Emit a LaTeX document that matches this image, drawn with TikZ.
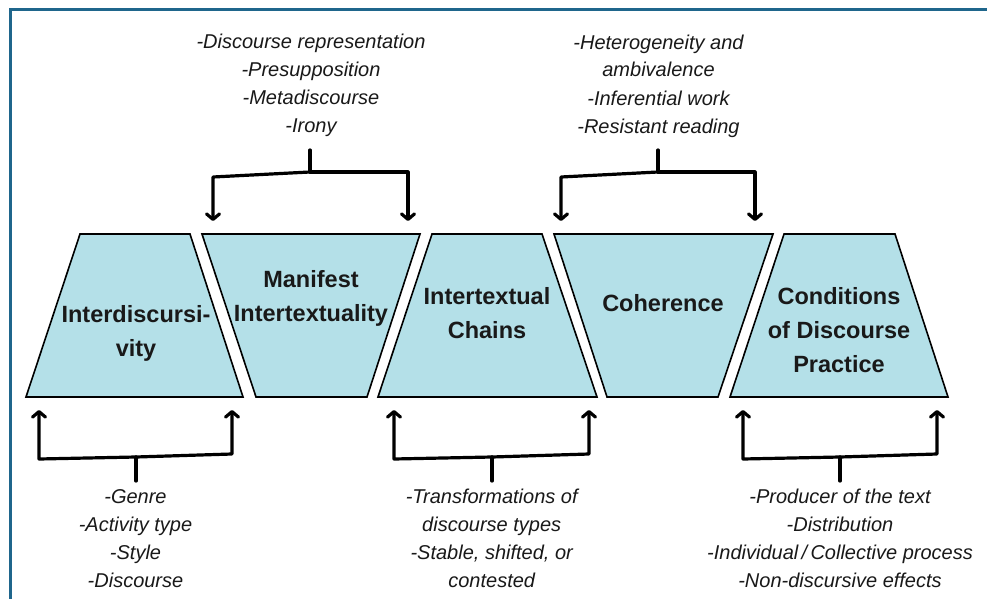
\documentclass[tikz,border=0pt]{standalone}
\usepackage{fontspec}
\setmainfont{Liberation Sans}
\usetikzlibrary{arrows.meta}
\definecolor{framec}{RGB}{31,102,140}
\definecolor{boxfill}{RGB}{180,224,232}
\definecolor{txt}{RGB}{25,25,25}
\begin{document}
\begin{tikzpicture}[x=1pt,y=-1pt,
  box/.style={draw=black,line width=1.6pt,fill=boxfill,line join=miter},
  title/.style={font=\fontsize{23.5}{34}\selectfont\bfseries,text=txt,align=center,inner sep=0pt,anchor=base},
  note/.style={font=\fontsize{20}{28}\selectfont\itshape,text=txt,align=center,inner sep=0pt,anchor=base},
  brk/.style={draw=black,line width=3.2pt,line join=round,line cap=round},
  arr/.style={brk,-{Straight Barb[length=5.5pt,width=13pt,round]}}
]
\clip (0,0) rectangle (987,599);
\fill[white] (0,0) rectangle (987,599);
\draw[framec,line width=3pt] (10.5,9.5) rectangle (1200,800);

% shapes
\draw[box] (80,234) -- (190,234) -- (243,397) -- (26,397) -- cycle;
\draw[box] (202,234) -- (420,234) -- (367,397) -- (256,397) -- cycle;
\draw[box] (432,234) -- (542,234) -- (597,397) -- (378,397) -- cycle;
\draw[box] (554,234) -- (773,234) -- (718,397) -- (607,397) -- cycle;
\draw[box] (784,234) -- (895,234) -- (948,397) -- (730,397) -- cycle;

% titles (anchor = baseline of last line)
\node[title] (n1) at (136,356) {Interdiscursi-\\vity};
\node[title] (n2) at (311,321) {Manifest\\Intertextuality};
\node[title] (n3) at (487,338) {Intertextual\\Chains};
\node[title] (n4) at (663,311) {Coherence};
\node[title] (n5) at (839,372) {Conditions\\of Discourse\\Practice};

% notes (anchor = baseline of last line)
\node[note] (top1) at (311,132.8) {-Discourse representation\\-Presupposition\\-Metadiscourse\\-Irony};
\node[note] (top2) at (658.5,133) {-Heterogeneity and\\ambivalence\\-Inferential work\\-Resistant reading};
\node[note] (bot1) at (135.5,587.3) {-Genre\\-Activity type\\-Style\\-Discourse};
\node[note] (bot2) at (491.7,587.3) {-Transformations of\\discourse types\\-Stable, shifted, or\\contested};
\node[note] (bot3) at (840,587.3) {-Producer of the text\\-Distribution\\-Individual\,/\,Collective process\\-Non-discursive effects};

% bracket coordinates
\coordinate (a1s) at (310,150); \coordinate (a1m) at (310,172);
\coordinate (a1l) at (213,177); \coordinate (a1r) at (408,172);
\coordinate (a1lt) at (213,221); \coordinate (a1rt) at (408,221);
\coordinate (a2s) at (658,150); \coordinate (a2m) at (658,172);
\coordinate (a2l) at (561,177); \coordinate (a2r) at (755,172);
\coordinate (a2lt) at (561,221); \coordinate (a2rt) at (755,221);

\coordinate (b1s) at (136,481); \coordinate (b1m) at (136,457);
\coordinate (b1l) at (39,459); \coordinate (b1r) at (232,454);
\coordinate (b1lt) at (39,410); \coordinate (b1rt) at (232,410);
\coordinate (b2s) at (492,481); \coordinate (b2m) at (492,457);
\coordinate (b2l) at (394,459); \coordinate (b2r) at (589,454);
\coordinate (b2lt) at (394,410); \coordinate (b2rt) at (589,410);
\coordinate (b3s) at (840,481); \coordinate (b3m) at (840,457);
\coordinate (b3l) at (743,459); \coordinate (b3r) at (937,454);
\coordinate (b3lt) at (743,410); \coordinate (b3rt) at (937,410);

% brackets
\foreach \k in {a1,a2,b1,b2,b3}{
  \draw[brk] (\k s) -- (\k m);
  \draw[arr] (\k m) -- (\k l) -- (\k lt);
  \draw[arr] (\k m) -- (\k r) -- (\k rt);
}
\end{tikzpicture}
\end{document}
